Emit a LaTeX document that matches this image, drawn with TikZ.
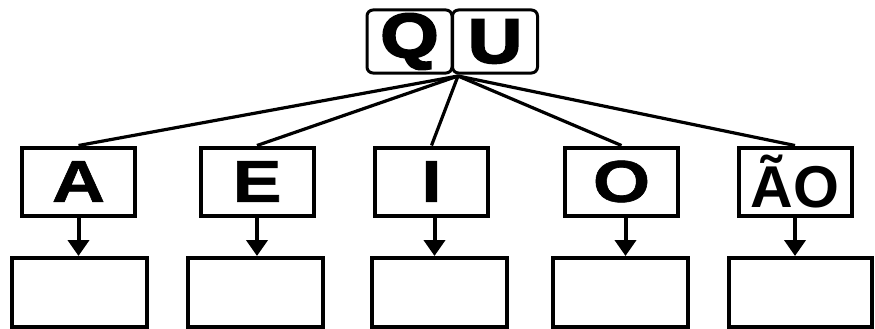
\documentclass[tikz,border=0pt]{standalone}
\usepackage{fontspec}
\setmainfont{Liberation Sans}
\newfontfamily\widefont{Liberation Sans}[FakeStretch=1.25,FakeBold=1]
\newfontfamily\heavyfont{Liberation Sans}[FakeStretch=1.2,FakeBold=4]
\usetikzlibrary{arrows.meta}

\begin{document}
\begin{tikzpicture}[x=1pt,y=-1pt,
    letter/.style={draw,line width=4pt,minimum width=113pt,minimum height=68pt,
      inner sep=0pt,font=\fontsize{59}{59}\selectfont\bfseries},
    syllable/.style={draw,line width=3pt,rounded corners=6pt,minimum width=85pt,
      minimum height=63pt,inner sep=0pt,font=\heavyfont\fontsize{62}{62}\selectfont\bfseries},
    blank/.style={draw,line width=4pt,minimum width=135pt,minimum height=69pt,inner sep=0pt},
    link/.style={line width=3.2pt},
    down/.style={line width=4pt,-{Triangle[width=21pt,length=16pt]}}]
  \useasboundingbox (0,0) rectangle (875,329);
  % Top part of the Figure
  \node[syllable]  (Q)   at (409.5,41.5) {Q};
  \node[syllable]  (U)   at (495,41.5)   {U};
  \coordinate      (hub) at (458,76);
  % Middle row
  \node[letter]    (vA)  at (78.5,181.5)  {\widefont A};
  \node[letter]    (vE)  at (257,181.5)   {\widefont E};
  \node[letter]    (vI)  at (431.5,181.5) {\widefont I};
  \node[letter]    (vO)  at (621.5,181.5) {\widefont O};
  \node[letter]    (vAO) at (795,181.5)   {ÃO};
  \draw[link] (hub) -- (vA.north);
  \draw[link] (hub) -- (vE.north);
  \draw[link] (hub) -- (vI.north);
  \draw[link] (hub) -- (vO.north);
  \draw[link] (hub) -- (vAO.north);
  % Bottom row
  \node[blank]     (bA)  at (79.5,292.5)  {};
  \node[blank]     (bE)  at (255,292.5)   {};
  \node[blank]     (bI)  at (439.5,292.5) {};
  \node[blank]     (bO)  at (620.5,292.5) {};
  \node[blank,minimum width=143pt] (bAO) at (800,292.5) {};
  \draw[down] (vA.south)  -- (vA.south |- bA.north);
  \draw[down] (vE.south)  -- (vE.south |- bE.north);
  \draw[down] ([xshift=3pt]vI.south) -- ([xshift=3pt]vI.south |- bI.north);
  \draw[down] ([xshift=4pt]vO.south) -- ([xshift=4pt]vO.south |- bO.north);
  \draw[down] (vAO.south) -- (vAO.south |- bAO.north);
\end{tikzpicture}
\end{document}
